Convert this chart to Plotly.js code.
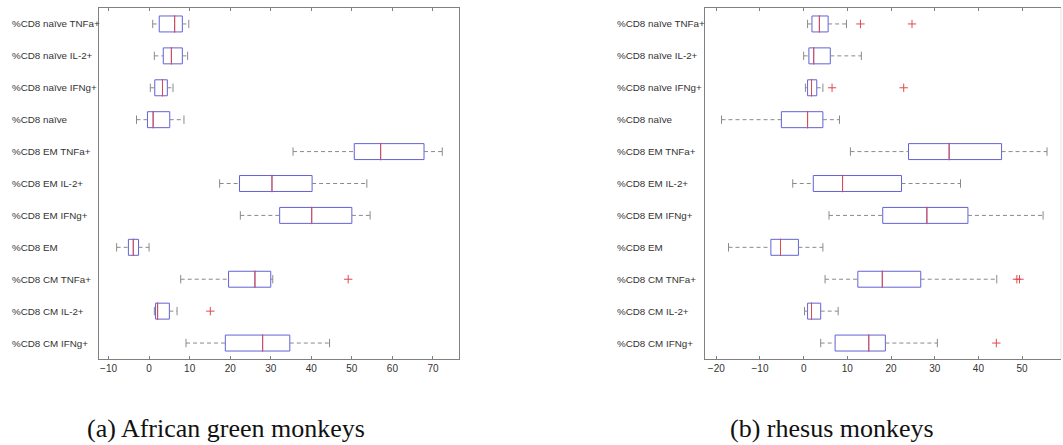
<!DOCTYPE html>
<html>
<head>
<meta charset="utf-8">
<script src="https://cdn.plot.ly/plotly-3.0.1.min.js"></script>
<style>html,body{margin:0;padding:0;background:#fff;}#chart{width:1063px;height:445px;}</style>
</head>
<body>
<div id="chart"></div>
<script>
const categories = ['%CD8 naïve TNFa+','%CD8 naïve IL-2+','%CD8 naïve IFNg+','%CD8 naïve','%CD8 EM TNFa+','%CD8 EM IL-2+','%CD8 EM IFNg+','%CD8 EM','%CD8 CM TNFa+','%CD8 CM IL-2+','%CD8 CM IFNg+'];

// (a) African green monkeys
const agmLow    = [0.9, 1.3, 0.3, -3.1, 35.5, 17.4, 22.5, -8.0, 7.8, 1.3, 9.1];
const agmQ1     = [2.5, 3.5, 1.4, -0.4, 50.6, 22.3, 32.2, -5.1, 19.6, 1.6, 18.8];
const agmMedian = [6.3, 5.5, 3.3, 1.0, 57.1, 30.3, 40.1, -3.9, 26.1, 2.1, 28.0];
const agmQ3     = [8.2, 8.2, 4.5, 5.1, 67.8, 40.2, 50.0, -2.6, 30.0, 5.0, 34.7];
const agmHigh   = [9.8, 9.5, 5.9, 8.6, 72.3, 53.7, 54.5, 0.0, 30.5, 6.9, 44.5];
const agmOutX   = [49.1, 15.1];
const agmOutCat = ['%CD8 CM TNFa+', '%CD8 CM IL-2+'];

// (b) rhesus monkeys
const rhLow    = [0.9, 0.0, 0.4, -18.8, 10.7, -2.5, 5.8, -17.2, 4.9, 0.2, 3.9];
const rhQ1     = [1.9, 1.2, 0.9, -5.1, 24.0, 2.2, 18.1, -7.5, 12.4, 0.9, 7.2];
const rhMedian = [3.6, 2.3, 1.8, 0.9, 33.3, 8.9, 28.2, -5.3, 18.0, 1.8, 14.9];
const rhQ3     = [5.6, 6.1, 3.0, 4.4, 45.3, 22.4, 37.6, -1.2, 26.8, 3.9, 18.7];
const rhHigh   = [9.8, 13.2, 4.4, 8.2, 55.7, 35.9, 54.8, 4.4, 44.2, 7.9, 30.6];
const rhOutX   = [13.0, 24.8, 6.5, 22.9, 48.8, 49.4, 44.1];
const rhOutCat = ['%CD8 naïve TNFa+', '%CD8 naïve TNFa+', '%CD8 naïve IFNg+', '%CD8 naïve IFNg+', '%CD8 CM TNFa+', '%CD8 CM TNFa+', '%CD8 CM IFNg+'];

const captions = ['(a) African green monkeys', '(b) rhesus monkeys'];

const BLUE = '#6262d6', RED = '#e04a4e', GREY = '#8a8a8a';

function panelTraces(lo, q1, med, q3, hi, outX, outCat, xa, ya) {
  const wx = [], wy = [];
  categories.forEach((c, i) => {
    wx.push(lo[i], q1[i], null, q3[i], hi[i], null);
    wy.push(c, c, null, c, c, null);
  });
  return [
    {type: 'scatter', mode: 'lines', x: wx, y: wy, xaxis: xa, yaxis: ya,
     line: {color: GREY, width: 1, dash: '4px,3px'}, hoverinfo: 'skip', showlegend: false, connectgaps: false},
    {type: 'box', orientation: 'h', y: categories, q1: q1, median: med, q3: q3,
     lowerfence: q1, upperfence: q3, width: 0.5, whiskerwidth: 0,
     fillcolor: 'rgba(255,255,255,0)', line: {color: BLUE, width: 1},
     boxpoints: false, xaxis: xa, yaxis: ya, showlegend: false, hoverinfo: 'skip'},
    {type: 'scatter', mode: 'markers', x: lo.concat(hi), y: categories.concat(categories), xaxis: xa, yaxis: ya,
     marker: {symbol: 'line-ns-open', size: 6, color: GREY, line: {color: GREY, width: 1}}, showlegend: false, hoverinfo: 'skip'},
    {type: 'scatter', mode: 'markers', x: med, y: categories, xaxis: xa, yaxis: ya,
     marker: {symbol: 'line-ns-open', size: 12.5, color: RED, line: {color: RED, width: 1}}, showlegend: false, hoverinfo: 'skip'},
    {type: 'scatter', mode: 'markers', x: outX, y: outCat, xaxis: xa, yaxis: ya,
     marker: {symbol: 'cross-thin-open', size: 6, color: RED, line: {color: RED, width: 1}}, showlegend: false, hoverinfo: 'skip'}
  ];
}

const data = [].concat(
  panelTraces(agmLow, agmQ1, agmMedian, agmQ3, agmHigh, agmOutX, agmOutCat, 'x', 'y'),
  panelTraces(rhLow, rhQ1, rhMedian, rhQ3, rhHigh, rhOutX, rhOutCat, 'x2', 'y2')
);

const W = 1063, H = 445;
const tickFont = {family: 'Liberation Sans, Arial, sans-serif', size: 10, color: '#333'};
const labelFont = {family: 'Liberation Sans, Arial, sans-serif', size: 9.8, color: '#333'};
const yDomain = [1 - 359/H, 1 - 8/H];

function xAxis(domain, range, dtick) {
  return {domain: domain, range: range, dtick: dtick, tick0: 0, showgrid: false, zeroline: false,
    showline: true, linecolor: '#808080', linewidth: 1, mirror: 'ticks', ticks: 'inside', ticklen: 3,
    tickcolor: '#808080', tickfont: tickFont, fixedrange: true};
}
function yAxis(anchor, mirror) {
  return {domain: yDomain, anchor: anchor, type: 'category', categoryorder: 'array', categoryarray: categories,
    range: [10.5, -0.5], showgrid: false, zeroline: false, showline: true, linecolor: '#808080', linewidth: 1,
    mirror: mirror, ticks: '', showticklabels: false, fixedrange: true};
}

const annotations = [];
categories.forEach((c, i) => {
  annotations.push({xref: 'paper', yref: 'y', x: 10/W, y: i, text: c, showarrow: false, xanchor: 'left', yanchor: 'middle', font: labelFont});
  annotations.push({xref: 'paper', yref: 'y2', x: 615/W, y: i, text: c, showarrow: false, xanchor: 'left', yanchor: 'middle', font: labelFont});
});
const capFont = {family: 'Liberation Serif, Times New Roman, serif', size: 26, color: '#111'};
annotations.push({xref: 'paper', yref: 'paper', x: 226/W, y: 1 - 428/H, text: captions[0], showarrow: false, xanchor: 'center', yanchor: 'middle', font: capFont});
annotations.push({xref: 'paper', yref: 'paper', x: 832/W, y: 1 - 428/H, text: captions[1], showarrow: false, xanchor: 'center', yanchor: 'middle', font: capFont});

const layout = {
  width: W, height: H, margin: {l: 0, r: 0, t: 0, b: 0},
  paper_bgcolor: '#fff', plot_bgcolor: '#fff', showlegend: false,
  xaxis: xAxis([99/W, 458.5/W], [-12.35, 76.3], 10),
  yaxis: yAxis('x', true),
  xaxis2: Object.assign(xAxis([704.7/W, 1061/W], [-22.65, 58.9], 10), {anchor: 'y2'}),
  yaxis2: yAxis('x2', false),
  annotations: annotations,
  shapes: [{type: 'line', xref: 'x2 domain', yref: 'y2 domain', x0: 1, x1: 1, y0: 0, y1: 1, line: {color: '#e4e4e4', width: 1}}]
};
layout.xaxis.anchor = 'y';

Plotly.newPlot('chart', data, layout, {staticPlot: true, displayModeBar: false});
</script>
</body>
</html>
